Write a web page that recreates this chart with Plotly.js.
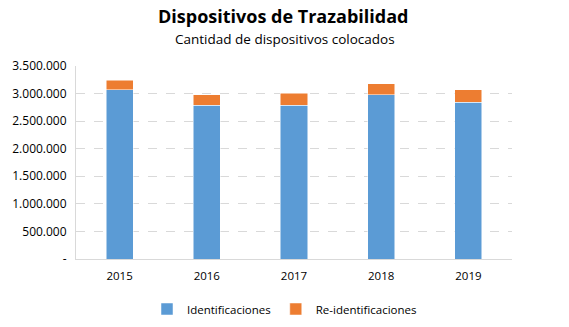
<!DOCTYPE html>
<html><head><meta charset="utf-8">
<script src="https://cdn.plot.ly/plotly-3.0.1.min.js"></script>
<style>body{margin:0;}#c{width:569px;height:327px;}</style>
</head><body><div id="c"></div>
<script>
const years = ['2015','2016','2017','2018','2019'];
const identificaciones = [3070000, 2790000, 2790000, 2980000, 2840000];
const reidentificaciones = [170000, 190000, 215000, 200000, 230000];
const tickVals = [0, 500000, 1000000, 1500000, 2000000, 2500000, 3000000, 3500000];
const tickText = ['-', '500.000', '1.000.000', '1.500.000', '2.000.000', '2.500.000', '3.000.000', '3.500.000'];
const chartTitle = 'Dispositivos de Trazabilidad';
const chartSubtitle = 'Cantidad de dispositivos colocados';

const font = 'Open Sans, Noto Sans, sans-serif';
const W = 569, H = 327, mL = 76, mR = 57, mT = 66, mB = 68;
const plotH = H - mT - mB, plotW = W - mL - mR;
const py = px => (H - mB - px) / plotH;
const pxX = px => (px - mL) / plotW;
const data = [
  {type:'bar', name:'Identificaciones', x:years, y:identificaciones, marker:{color:'#5b9bd5', line:{color:'#ffffff', width:0.5}}, width:0.31},
  {type:'bar', name:'Re-identificaciones', x:years, y:reidentificaciones, marker:{color:'#ed7d31', line:{color:'#ffffff', width:0.5}}, width:0.31}
];
const layout = {
  width:W, height:H, barmode:'stack',
  margin:{l:mL, r:mR, t:mT, b:mB, autoexpand:false},
  paper_bgcolor:'#fff', plot_bgcolor:'#fff',
  font:{family:font, color:'#000', size:11},
  annotations:[
    {text:'<b>'+chartTitle+'</b>', xref:'paper', yref:'paper', x:pxX(283), y:py(16), xanchor:'center', yanchor:'middle', showarrow:false, font:{size:18, family:font}},
    {text:chartSubtitle, xref:'paper', yref:'paper', x:pxX(285), y:py(39), xanchor:'center', yanchor:'middle', showarrow:false, font:{size:13.5, family:font}}
  ],
  xaxis:{type:'category', showline:true, linecolor:'#d9d9d9', linewidth:1, ticks:'', tickfont:{size:11.5}, showgrid:false, ticklabelstandoff:6},
  yaxis:{range:[0,3500000], tickvals:tickVals, ticktext:tickText, showgrid:true, gridcolor:'#d9d9d9', griddash:'dash', showline:true, linecolor:'#d9d9d9', zeroline:false, tickfont:{size:12}, ticks:'', ticklabelstandoff:6},
  legend:{orientation:'h', x:0.5, xanchor:'center', xref:'container', yref:'container', y:1-309/327, yanchor:'middle', font:{size:11.5}, traceorder:'normal', itemwidth:30},
  showlegend:true
};
Plotly.newPlot('c', data, layout, {displayModeBar:false, staticPlot:true});
</script></body></html>
